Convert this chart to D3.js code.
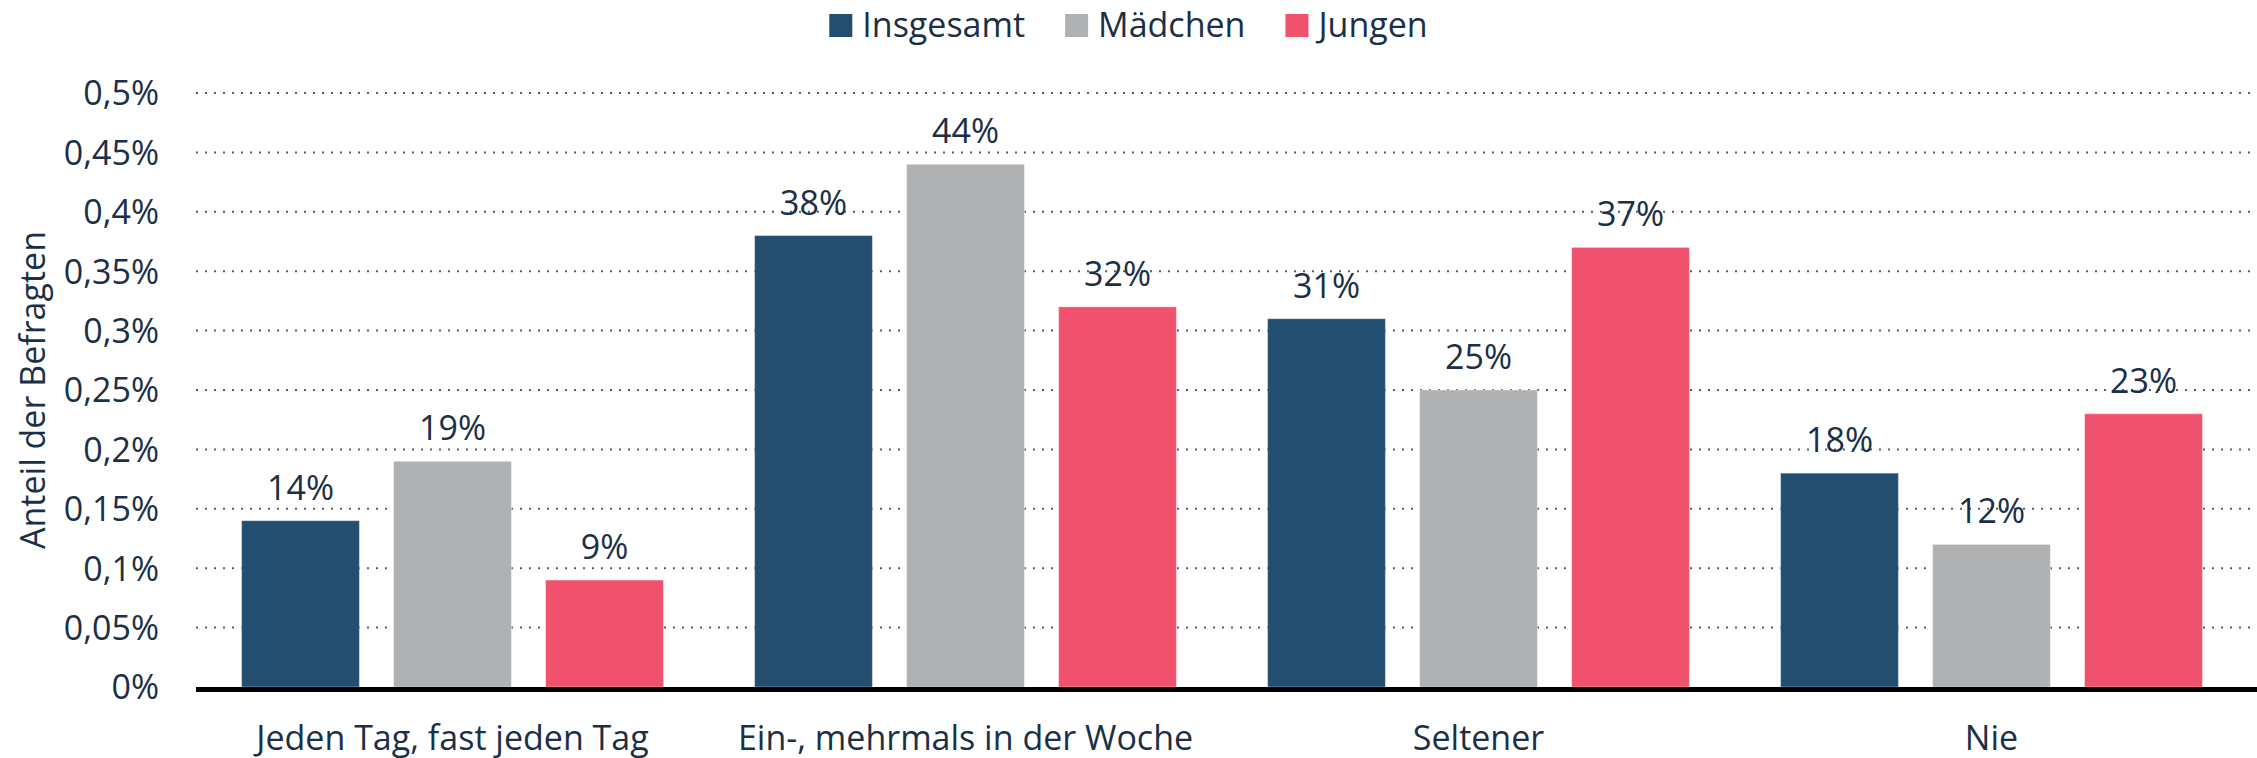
<!DOCTYPE html>
<html>
<head>
<meta charset="utf-8">
<script src="https://cdn.jsdelivr.net/npm/d3@7"></script>
<style>
  html, body { margin: 0; padding: 0; background: #fff; }
  svg text { font-family: "Open Sans", sans-serif; fill: #1b2f47; }
</style>
</head>
<body>
<div id="chart"></div>
<script>
// categories and series
var categories = ["Jeden Tag, fast jeden Tag", "Ein-, mehrmals in der Woche", "Seltener", "Nie"];
var seriesNames = ["Insgesamt", "Mädchen", "Jungen"];
var seriesColors = ["#234e70", "#b0b1b3", "#f0526d"];

var insgesamt = [0.14, 0.38, 0.31, 0.18];
var maedchen  = [0.19, 0.44, 0.25, 0.12];
var jungen    = [0.09, 0.32, 0.37, 0.23];

var yTicks = [0, 0.05, 0.1, 0.15, 0.2, 0.25, 0.3, 0.35, 0.4, 0.45, 0.5];
var yTickLabels = ["0%", "0,05%", "0,1%", "0,15%", "0,2%", "0,25%", "0,3%", "0,35%", "0,4%", "0,45%", "0,5%"];
var valueLabels = [
    ["14%", "38%", "31%", "18%"],
    ["19%", "44%", "25%", "12%"],
    ["9%", "32%", "37%", "23%"]
];

var width = 2257;
var height = 758;
var fontSize = 34;

(function() {
    var series = [insgesamt, maedchen, jungen];

    var rows = categories.map(function(c, i) {
        return {
            cat: c,
            bars: seriesNames.map(function(s, j) {
                return { key: s, value: series[j][i], label: valueLabels[j][i], color: seriesColors[j] };
            })
        };
    });

    var svg = d3.select("#chart").append("svg")
        .attr("width", width)
        .attr("height", height);

    var left = 196, right = 2248;

    var x0 = d3.scaleBand()
        .domain(categories)
        .range([left, right])
        .padding(0);

    var x1 = d3.scaleBand()
        .domain(seriesNames)
        .range([0, x0.bandwidth()])
        .paddingInner(0.225)
        .paddingOuter(0.3);

    var y = d3.scaleLinear()
        .domain([0, 0.5])
        .range([687, 93]);

    // grid lines
    svg.append("g")
        .selectAll("line")
        .data(yTicks.filter(function(d) { return d > 0; }))
        .enter()
        .append("line")
        .attr("x1", left)
        .attr("x2", width)
        .attr("y1", function(d) { return y(d); })
        .attr("y2", function(d) { return y(d); })
        .attr("stroke", "#5a5f66")
        .attr("stroke-width", 2)
        .attr("stroke-dasharray", "2,7");

    // y axis tick labels
    var yAxis = d3.axisLeft(y)
        .tickValues(yTicks)
        .tickFormat(function(d, i) { return yTickLabels[i]; })
        .tickSize(0)
        .tickPadding(37);

    var gy = svg.append("g")
        .attr("transform", "translate(" + left + ",0)")
        .call(yAxis);
    gy.select(".domain").remove();
    gy.selectAll("text")
        .attr("font-size", fontSize)
        .attr("dy", "0.35em")
        .style("fill", "#1b2f47")
        .style("font-family", "'Open Sans', sans-serif");

    // y axis title
    svg.append("text")
        .attr("transform", "translate(45," + ((y(0) + y(0.5)) / 2) + ") rotate(-90)")
        .attr("text-anchor", "middle")
        .attr("font-size", fontSize)
        .text("Anteil der Befragten");

    // bars
    var groups = svg.append("g")
        .selectAll("g")
        .data(rows)
        .enter()
        .append("g")
        .attr("transform", function(d) { return "translate(" + x0(d.cat) + ",0)"; });

    groups.selectAll("rect")
        .data(function(d) { return d.bars; })
        .enter()
        .append("rect")
        .attr("x", function(d) { return x1(d.key); })
        .attr("y", function(d) { return y(d.value); })
        .attr("width", x1.bandwidth())
        .attr("height", function(d) { return y(0) - y(d.value); })
        .attr("fill", function(d) { return d.color; })
        .attr("stroke", "#ffffff")
        .attr("stroke-opacity", 0.35)
        .attr("stroke-width", 1);

    groups.selectAll("text")
        .data(function(d) { return d.bars; })
        .enter()
        .append("text")
        .attr("x", function(d) { return x1(d.key) + x1.bandwidth() / 2; })
        .attr("y", function(d) { return y(d.value) - 21; })
        .attr("text-anchor", "middle")
        .attr("font-size", fontSize)
        .text(function(d) { return d.label; });

    // baseline
    svg.append("line")
        .attr("x1", left)
        .attr("x2", width)
        .attr("y1", y(0) + 2.5)
        .attr("y2", y(0) + 2.5)
        .attr("stroke", "#000")
        .attr("stroke-width", 5);

    // category labels
    var xAxis = d3.axisBottom(x0).tickSize(0).tickPadding(0);
    var gx = svg.append("g")
        .attr("transform", "translate(0,750)")
        .call(xAxis);
    gx.select(".domain").remove();
    gx.selectAll("text")
        .attr("font-size", fontSize)
        .attr("dy", 0)
        .attr("y", 0)
        .style("fill", "#1b2f47")
        .style("font-family", "'Open Sans', sans-serif");

    // legend
    var legend = svg.append("g");
    var item = legend.selectAll("g")
        .data(seriesNames)
        .enter()
        .append("g");

    item.append("rect")
        .attr("width", 23)
        .attr("height", 23)
        .attr("y", 14)
        .attr("fill", function(d, i) { return seriesColors[i]; });

    item.append("text")
        .attr("x", 33)
        .attr("y", 37)
        .attr("font-size", fontSize)
        .text(function(d) { return d; });

    var pos = 0;
    item.each(function() {
        var w = d3.select(this).select("text").node().getComputedTextLength();
        d3.select(this).attr("transform", "translate(" + pos + ",0)");
        pos += 33 + w + 40;
    });
    var total = pos - 40;
    legend.attr("transform", "translate(" + (width / 2 - total / 2) + ",0)");
})();
</script>
</body>
</html>
